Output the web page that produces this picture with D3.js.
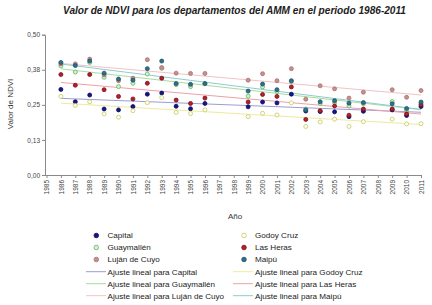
<!DOCTYPE html>
<html><head><meta charset="utf-8">
<script src="https://cdn.jsdelivr.net/npm/d3@7"></script>
<style>body{margin:0;background:#fff}svg{display:block;font-family:"Liberation Sans",Arial,sans-serif}</style>
</head><body><svg id="c" width="432" height="305"></svg>
<script>
const years = [1986,1987,1988,1989,1990,1991,1992,1993,1994,1995,1996,1999,2000,2001,2002,2003,2004,2005,2006,2007,2009,2010,2011];
const capital    = [0.305,0.261,0.285,0.235,0.232,0.244,0.288,0.292,0.245,0.236,0.255,0.243,0.260,0.257,0.288,0.228,0.226,0.225,0.208,0.227,0.232,0.212,0.244];
const guaymallen = [0.389,0.367,0.401,0.348,0.315,0.327,0.360,0.380,0.322,0.315,0.325,0.281,0.314,0.298,0.333,0.235,0.255,0.258,0.246,0.254,0.262,0.229,0.256];
const lujan      = [0.396,0.396,0.413,0.357,0.336,0.345,0.411,0.383,0.363,0.362,0.362,0.338,0.361,0.336,0.379,0.270,0.318,0.307,0.274,0.295,0.304,0.277,0.301];
const godoy      = [0.280,0.248,0.261,0.218,0.206,0.229,0.258,0.276,0.223,0.219,0.232,0.208,0.220,0.214,0.257,0.173,0.189,0.199,0.173,0.190,0.199,0.182,0.183];
const lasHeras   = [0.358,0.320,0.358,0.304,0.280,0.271,0.327,0.345,0.267,0.255,0.274,0.260,0.287,0.280,0.314,0.198,0.229,0.246,0.213,0.235,0.235,0.218,0.250];
const maipu      = [0.401,0.390,0.406,0.363,0.342,0.338,0.379,0.406,0.326,0.323,0.326,0.299,0.324,0.304,0.336,0.232,0.261,0.265,0.256,0.258,0.254,0.237,0.260];
const seriesNames = ["Capital","Guaymallén","Luján de Cuyo","Godoy Cruz","Las Heras","Maipú"];
const xTicks = d3.range(1985, 2012);
const yTicks = [0, 0.125, 0.25, 0.375, 0.5];

const styles = {
  "Capital":      {fill:"#15158a", stroke:"#0b0b5a", line:"#9c9cd6"},
  "Guaymallén":   {fill:"#d6efd0", stroke:"#5fb85f", line:"#a6dca0"},
  "Luján de Cuyo":{fill:"#c98e8e", stroke:"#a87070", line:"#efc3c8"},
  "Godoy Cruz":   {fill:"#ffffff", stroke:"#c9c656", line:"#ecec9c"},
  "Las Heras":    {fill:"#b3202c", stroke:"#7a1018", line:"#eea0a6"},
  "Maipú":        {fill:"#2c7190", stroke:"#1d4f66", line:"#8fcccc"}
};
const values = {"Capital":capital,"Guaymallén":guaymallen,"Luján de Cuyo":lujan,"Godoy Cruz":godoy,"Las Heras":lasHeras,"Maipú":maipu};

const svg = d3.select("#c");
const x = d3.scaleLinear().domain([1985, 2011]).range([46.5, 421]);
const y = d3.scaleLinear().domain([0, 0.5]).range([175, 34.7]);
const axisColor = "#8a8a8a";

svg.append("text").attr("x", 234.5).attr("y", 14).attr("text-anchor","middle")
  .attr("font-size", 10.1).attr("font-weight","bold").attr("font-style","italic").attr("fill","#222")
  .text("Valor de NDVI para los departamentos del AMM en el periodo 1986-2011");

const fmt = v => d3.format(".2f")(v).replace(".", ",");
const ya = svg.append("g").attr("transform","translate(45,0)")
  .call(d3.axisLeft(y).tickValues(yTicks).tickFormat(fmt).tickSize(3).tickPadding(2));
ya.select(".domain").attr("stroke", axisColor);
ya.selectAll(".tick line").attr("stroke", axisColor);
ya.selectAll("text").attr("font-size", 6.5).attr("fill","#444").attr("font-family","Liberation Sans, Arial");

const xa = svg.append("g").attr("transform","translate(0,175)")
  .call(d3.axisBottom(x).tickValues(xTicks).tickFormat(d3.format("d")).tickSize(3).tickSizeOuter(0));
xa.select(".domain").attr("stroke", axisColor).attr("d","M45,0.5H421");
xa.selectAll(".tick line").attr("stroke", axisColor);
xa.selectAll("text").attr("font-size", 6.5).attr("fill","#444").attr("font-family","Liberation Sans, Arial")
  .attr("transform","rotate(-90)").attr("text-anchor","end").attr("x",-5).attr("y",0).attr("dy","0.35em");

svg.append("text").attr("transform","translate(13,104) rotate(-90)").attr("text-anchor","middle")
  .attr("font-size", 8).attr("fill","#333").text("Valor de NDVI");
svg.append("text").attr("x", 235).attr("y", 219).attr("text-anchor","middle")
  .attr("font-size", 8).attr("fill","#333").text("Año");

// linear fits
function fit(vals){
  const n = years.length, mx = d3.mean(years), my = d3.mean(vals);
  let sxy = 0, sxx = 0;
  for (let i=0;i<n;i++){ sxy += (years[i]-mx)*(vals[i]-my); sxx += (years[i]-mx)**2; }
  const b = sxy/sxx; return t => my + b*(t-mx);
}
const line = d3.line().x(d=>x(d[0])).y(d=>y(d[1]));
seriesNames.forEach(nm => {
  const f = fit(values[nm]);
  svg.append("path").attr("d", line([[1986, f(1986)],[2011, f(2011)]]))
    .attr("stroke", styles[nm].line).attr("stroke-width", 1).attr("fill","none");
});
seriesNames.forEach(nm => {
  svg.append("g").selectAll("circle").data(years.map((yr,i)=>[yr, values[nm][i]])).join("circle")
    .attr("cx", d=>x(d[0])).attr("cy", d=>y(d[1])).attr("r", 2)
    .attr("fill", styles[nm].fill).attr("stroke", styles[nm].stroke).attr("stroke-width", 0.8);
});

// legend
const legendCols = [["Capital","Guaymallén","Luján de Cuyo"],["Godoy Cruz","Las Heras","Maipú"]];
const colX = [{m:96.3, t:107.5, l0:86, l1:106}, {m:244, t:255, l0:233, l1:253}];
const rowY = [235.5, 247.5, 259.5, 271.7, 283.7, 295.7];
legendCols.forEach((col, ci) => {
  const cx = colX[ci];
  col.forEach((nm, ri) => {
    const g = svg.append("g");
    g.append("circle").attr("cx", cx.m).attr("cy", rowY[ri]).attr("r", 2.3)
      .attr("fill", styles[nm].fill).attr("stroke", styles[nm].stroke).attr("stroke-width", 0.8);
    g.append("text").attr("x", cx.t).attr("y", rowY[ri]).attr("dy","0.35em")
      .attr("font-size", 8.1).attr("fill","#222").text(nm);
    const r2 = rowY[ri+3];
    g.append("line").attr("x1", cx.l0).attr("x2", cx.l1).attr("y1", r2).attr("y2", r2)
      .attr("stroke", styles[nm].line).attr("stroke-width", 1);
    g.append("text").attr("x", cx.t).attr("y", r2).attr("dy","0.35em")
      .attr("font-size", 8.1).attr("fill","#222").text("Ajuste lineal para " + nm);
  });
});
</script></body></html>
